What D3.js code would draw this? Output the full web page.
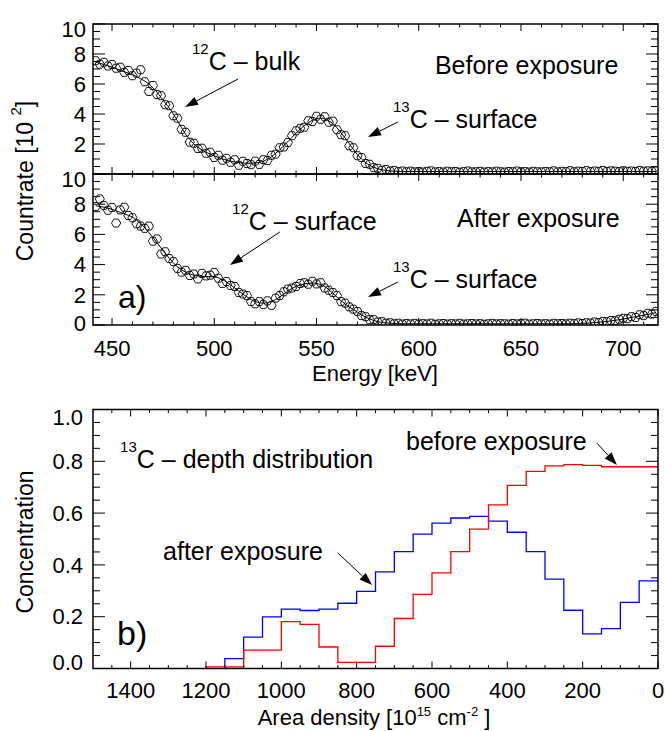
<!DOCTYPE html>
<html lang="en">
<head>
<meta charset="UTF-8">
<script src="https://d3js.org/d3.v7.min.js"></script>
<title>13C depth distribution</title>
<style>
  body { margin: 0; background: #fff; }
  svg { display: block; font-family: "Liberation Sans", Arial, sans-serif; }
  .frame { fill: none; stroke: #000; stroke-width: 1.5px; }
  .tick { stroke: #000; stroke-width: 1px; }
  .fit { fill: none; stroke: #000; stroke-width: 1px; }
  .pt { fill: none; stroke: #000; stroke-width: 0.9px; }
  .arrow { stroke: #000; stroke-width: 1px; }
</style>
</head>
<body>
<svg width="665" height="731"></svg>
<script>
const width = 665, height = 731;

// spectra channel grid: E = E0 + i * dE  [keV]
const E0 = 442, dE = 2;

// countrate [10^2], before exposure
const beforeFit = [
  7.45,7.38,7.30,7.22,7.12,7.02,6.92,6.82,6.72,6.62,
  6.50,6.35,6.20,6.00,5.75,5.45,5.10,4.75,4.40,4.00,
  3.55,3.10,2.65,2.30,2.00,1.78,1.60,1.45,1.33,1.22,
  1.10,1.00,0.92,0.85,0.80,0.76,0.73,0.72,0.72,0.73,
  0.77,0.85,0.98,1.15,1.38,1.62,1.88,2.15,2.45,2.72,
  2.98,3.22,3.42,3.58,3.68,3.72,3.68,3.55,3.35,3.08,
  2.75,2.40,2.02,1.65,1.30,1.00,0.76,0.58,0.45,0.35,
  0.28,0.24,0.21,0.19,0.18,0.17,0.17,0.17,0.17,0.17,
  0.17,0.17,0.17,0.17,0.17,0.17,0.17,0.17,0.17,0.17,
  0.17,0.17,0.17,0.17,0.17,0.17,0.17,0.17,0.17,0.17,
  0.17,0.17,0.17,0.17,0.17,0.17,0.17,0.17,0.17,0.17,
  0.17,0.17,0.17,0.17,0.17,0.17,0.17,0.17,0.17,0.17,
  0.17,0.17,0.17,0.17,0.17,0.17,0.17,0.17,0.17,0.17,
  0.17,0.17,0.17,0.17,0.17,0.17,0.17,0.17
];
const beforeData = [
  7.55,7.32,7.45,7.20,7.30,7.05,7.12,6.78,6.90,6.55,
  6.72,6.95,6.15,5.50,5.90,5.30,5.22,4.62,4.55,3.88,
  3.72,2.98,2.78,2.12,2.05,1.70,1.72,1.38,1.45,1.10,
  1.25,0.92,1.05,0.78,0.95,0.58,0.85,0.70,0.62,0.86,
  0.64,0.95,0.90,1.25,1.32,1.75,1.80,2.10,2.55,2.88,
  3.05,3.12,3.55,3.50,3.85,3.65,3.82,3.45,3.52,2.95,
  2.62,2.55,1.88,1.75,1.22,1.10,0.70,0.65,0.42,0.38,
  0.25,0.30,0.20,0.24,0.16,0.20,0.15,0.19,0.14,0.17,
  0.13,0.18,0.21,0.14,0.16,0.13,0.19,0.15,0.17,0.12,
  0.16,0.20,0.14,0.15,0.18,0.13,0.16,0.14,0.19,0.15,
  0.13,0.17,0.15,0.20,0.14,0.16,0.13,0.18,0.15,0.14,
  0.17,0.15,0.21,0.14,0.18,0.16,0.22,0.15,0.19,0.17,
  0.23,0.16,0.20,0.18,0.24,0.17,0.21,0.19,0.16,0.22,
  0.18,0.20,0.17,0.23,0.19,0.21,0.18,0.20
];

// countrate [10^2], after exposure
const afterFit = [
  7.90,7.85,7.80,7.74,7.66,7.56,7.46,7.36,7.26,7.14,
  6.95,6.70,6.45,6.12,5.80,5.45,5.10,4.76,4.42,4.12,
  3.86,3.66,3.50,3.38,3.30,3.25,3.22,3.20,3.20,3.18,
  3.12,3.00,2.85,2.65,2.45,2.25,2.05,1.86,1.68,1.55,
  1.48,1.45,1.47,1.55,1.68,1.85,2.05,2.25,2.42,2.55,
  2.65,2.72,2.76,2.78,2.75,2.68,2.55,2.35,2.10,1.85,
  1.60,1.40,1.20,1.02,0.85,0.68,0.52,0.40,0.30,0.22,
  0.17,0.14,0.12,0.10,0.09,0.08,0.08,0.08,0.08,0.08,
  0.08,0.08,0.08,0.08,0.08,0.08,0.08,0.08,0.08,0.08,
  0.08,0.08,0.08,0.08,0.08,0.08,0.08,0.08,0.08,0.08,
  0.08,0.08,0.08,0.08,0.08,0.08,0.08,0.08,0.08,0.08,
  0.08,0.08,0.08,0.08,0.08,0.08,0.08,0.09,0.10,0.11,
  0.12,0.14,0.16,0.18,0.21,0.24,0.27,0.31,0.35,0.40,
  0.45,0.50,0.55,0.60,0.65,0.70,0.76,0.82
];
const afterData = [
  7.85,8.35,7.92,7.60,7.78,6.75,7.62,7.80,7.25,7.10,
  6.70,6.55,6.40,6.55,5.55,5.70,4.70,4.85,4.40,4.20,
  3.75,3.50,3.62,3.28,3.38,3.05,3.42,3.25,3.30,3.48,
  3.10,2.75,2.88,2.62,2.55,2.15,2.05,1.95,1.55,1.40,
  1.55,1.35,1.60,1.30,1.78,1.95,2.20,2.38,2.45,2.55,
  2.75,2.80,2.70,2.90,2.72,2.80,2.45,2.30,2.15,1.95,
  1.55,1.45,1.20,1.05,0.90,0.62,0.55,0.35,0.35,0.20,
  0.22,0.12,0.15,0.08,0.12,0.06,0.10,0.07,0.11,0.06,
  0.09,0.07,0.12,0.05,0.08,0.10,0.06,0.09,0.07,0.11,
  0.06,0.08,0.10,0.07,0.09,0.05,0.08,0.11,0.07,0.09,
  0.08,0.06,0.10,0.07,0.09,0.12,0.06,0.08,0.10,0.07,
  0.09,0.06,0.11,0.08,0.10,0.07,0.12,0.09,0.14,0.10,
  0.15,0.13,0.20,0.16,0.24,0.22,0.30,0.28,0.38,0.45,
  0.42,0.55,0.50,0.68,0.62,0.78,0.72,0.90
];

// depth profile: bin edges in area density [10^15 cm^-2], deep end first
const binEdges = [1200,1150,1100,1050,1000,950,900,850,800,750,700,650,
                  600,550,500,450,400,350,300,250,200,150,100,50,0];
const beforeConc = [0.006,0.006,0.071,0.071,0.181,0.170,0.083,0.024,0.024,0.086,0.193,0.286,
                    0.369,0.451,0.538,0.632,0.707,0.761,0.782,0.787,0.784,0.779,0.779,0.779];
const afterConc = [null,0.038,0.121,0.199,0.229,0.224,0.229,0.252,0.298,0.373,0.451,0.519,
                   0.561,0.581,0.587,0.569,0.526,0.451,0.345,0.225,0.134,0.154,0.255,0.338];

const energyTicks = [450, 500, 550, 600, 650, 700];
const countTicksTop = [2, 4, 6, 8, 10];
const countTicksBottom = [0, 2, 4, 6, 8, 10];
const depthTicks = [1400, 1200, 1000, 800, 600, 400, 200, 0];
const concTicks = [0, 0.2, 0.4, 0.6, 0.8, 1.0];

const svg = d3.select("svg");

// ---------- helpers ----------
function ticksX(g, x, values, isMajor, y0, y1) {
  values.forEach(v => {
    const len = isMajor(v) ? 7 : 3.5;
    g.append("line").attr("class", "tick")
      .attr("x1", x(v)).attr("x2", x(v)).attr("y1", y0).attr("y2", y0 + len);
    g.append("line").attr("class", "tick")
      .attr("x1", x(v)).attr("x2", x(v)).attr("y1", y1).attr("y2", y1 - len);
  });
}

function ticksY(g, y, values, isMajor, x0, x1) {
  values.forEach(v => {
    const len = isMajor(v) ? 12 : 7;
    g.append("line").attr("class", "tick")
      .attr("x1", x0).attr("x2", x0 + len).attr("y1", y(v)).attr("y2", y(v));
    g.append("line").attr("class", "tick")
      .attr("x1", x1).attr("x2", x1 - len).attr("y1", y(v)).attr("y2", y(v));
  });
}

function supText(g, x, y, sup, main, size) {
  const t = g.append("text").attr("x", x).attr("y", y).attr("font-size", size);
  t.append("tspan").attr("font-size", 15).attr("dy", -16).text(sup);
  t.append("tspan").attr("dy", 16).text(main);
  return t;
}

function arrow(g, x1, y1, x2, y2) {
  const a = Math.atan2(y2 - y1, x2 - x1), L = 13, W = 4.5;
  const bx = x2 - L * Math.cos(a), by = y2 - L * Math.sin(a);
  g.append("line").attr("class", "arrow")
    .attr("x1", x1).attr("y1", y1).attr("x2", bx).attr("y2", by);
  g.append("path")
    .attr("d", `M${x2},${y2}L${bx - W * Math.sin(a)},${by + W * Math.cos(a)}L${bx + W * Math.sin(a)},${by - W * Math.cos(a)}Z`)
    .attr("fill", "#000");
}

const hexPath = d3.line()(d3.range(6).map(k => [4.6 * Math.cos(k * Math.PI / 3), 4.6 * Math.sin(k * Math.PI / 3)])) + "Z";

// ---------- panel a ----------
const xE = d3.scaleLinear().domain([440.7, 717]).range([93, 658]);
const panelsA = [
  { fit: beforeFit, data: beforeData, labels: countTicksTop,
    y: d3.scaleLinear().domain([0, 10]).range([174, 24]) },
  { fit: afterFit, data: afterData, labels: countTicksBottom,
    y: d3.scaleLinear().domain([0, 10]).range([325, 174]) }
];

panelsA.forEach((p, k) => {
  const g = svg.append("g");
  const [yb, yt] = p.y.range();
  const id = "clipA" + k;
  svg.append("clipPath").attr("id", id).append("rect")
    .attr("x", xE.range()[0]).attr("y", yt)
    .attr("width", xE.range()[1] - xE.range()[0]).attr("height", yb - yt);

  const plot = g.append("g").attr("clip-path", `url(#${id})`);
  const pts = p.data.map((v, i) => [E0 + i * dE, v]);
  const fitPts = p.fit.map((v, i) => [E0 + i * dE, v]);

  plot.selectAll("path.pt").data(pts).enter().append("path")
    .attr("class", "pt").attr("d", hexPath)
    .attr("transform", d => `translate(${xE(d[0])},${p.y(d[1])})`);

  plot.append("path").attr("class", "fit")
    .attr("d", d3.line().x(d => xE(d[0])).y(d => p.y(d[1])).curve(d3.curveMonotoneX)(fitPts));

  g.append("rect").attr("class", "frame")
    .attr("x", xE.range()[0]).attr("y", yt)
    .attr("width", xE.range()[1] - xE.range()[0]).attr("height", yb - yt);

  ticksX(g, xE, d3.range(450, 717, 10), v => v % 50 === 0, yt, yb);
  ticksY(g, p.y, d3.range(0, 10.01, 0.5), v => v % 2 === 0, xE.range()[0], xE.range()[1]);

  p.labels.forEach(v => {
    const ly = Math.max(yt + 5, Math.min(yb - 2, p.y(v)));
    g.append("text").attr("x", 86).attr("y", ly).attr("dy", "0.35em")
      .attr("text-anchor", "end").attr("font-size", 22).text(v);
  });
});

energyTicks.forEach(v => {
  svg.append("text").attr("x", xE(v)).attr("y", 356)
    .attr("text-anchor", "middle").attr("font-size", 22).text(v);
});

svg.append("text").attr("x", 375).attr("y", 381)
  .attr("text-anchor", "middle").attr("font-size", 22).text("Energy [keV]");

const cy = svg.append("text").attr("transform", "translate(33,181) rotate(-90)")
  .attr("text-anchor", "middle").attr("font-size", 23);
cy.append("tspan").text("Countrate [10 ");
cy.append("tspan").attr("font-size", 15).attr("dy", -12).text("2");
cy.append("tspan").attr("dy", 12).text("]");

// panel a annotations (data coordinates)
const yA = panelsA[0].y, yB = panelsA[1].y;
const ann = svg.append("g");
supText(ann, xE(489.1), yA(6.93), "12", "C \u2013 bulk", 25);
arrow(ann, xE(511.6), yA(6.33), xE(485.7), yA(4.47));
ann.append("text").attr("x", xE(607.9)).attr("y", yA(6.67)).attr("font-size", 25).text("Before exposure");
supText(ann, xE(587.4), yA(3.07), "13", "C \u2013 surface", 25);
arrow(ann, xE(589.8), yA(3.47), xE(575.2), yA(2.47));

supText(ann, xE(508.7), yB(6.29), "12", "C \u2013 surface", 25);
arrow(ann, xE(532.1), yB(6.16), xE(507.7), yB(3.97));
ann.append("text").attr("x", xE(618.7)).attr("y", yB(6.49)).attr("font-size", 25).text("After exposure");
supText(ann, xE(587.4), yB(2.45), "13", "C \u2013 surface", 25);
arrow(ann, xE(589.8), yB(2.85), xE(575.2), yB(1.85));
ann.append("text").attr("x", xE(452.9)).attr("y", yB(1.13)).attr("font-size", 32).text("a)");

// ---------- panel b ----------
const xD = d3.scaleLinear().domain([1500, 0]).range([93, 658]);
const yC = d3.scaleLinear().domain([0, 1]).range([668.5, 409.5]);
const gb = svg.append("g");

svg.append("clipPath").attr("id", "clipB").append("rect")
  .attr("x", 93).attr("y", 409.5).attr("width", 565).attr("height", 259);

function stepPoints(vals) {
  const pts = [];
  vals.forEach((v, i) => {
    if (v == null) return;
    if (!pts.length) pts.push([binEdges[i], 0]);
    pts.push([binEdges[i], v]);
  });
  pts.push([binEdges[binEdges.length - 1], vals[vals.length - 1]]);
  return pts;
}

const step = d3.line().x(d => xD(d[0])).y(d => yC(d[1])).curve(d3.curveStepAfter);
const plotB = gb.append("g").attr("clip-path", "url(#clipB)");
plotB.append("path").attr("d", step(stepPoints(afterConc)))
  .attr("fill", "none").attr("stroke", "#0000ff").attr("stroke-width", 1.3);
plotB.append("path").attr("d", step(stepPoints(beforeConc)))
  .attr("fill", "none").attr("stroke", "#ff0000").attr("stroke-width", 1.3);

gb.append("rect").attr("class", "frame")
  .attr("x", 93).attr("y", 409.5).attr("width", 565).attr("height", 259);

ticksX(gb, xD, d3.range(0, 1500, 50), v => v % 200 === 0, 409.5, 668.5);
ticksY(gb, yC, d3.range(0, 21).map(i => i / 20), v => Math.abs(v * 5 - Math.round(v * 5)) < 1e-9, 93, 658);

concTicks.forEach(v => {
  const ly = Math.max(409.5 + 8, Math.min(668.5 - 6, yC(v)));
  gb.append("text").attr("x", 83).attr("y", ly).attr("dy", "0.35em")
    .attr("text-anchor", "end").attr("font-size", 22).text(v.toFixed(1));
});
depthTicks.forEach(v => {
  gb.append("text").attr("x", xD(v)).attr("y", 698)
    .attr("text-anchor", "middle").attr("font-size", 22).text(v);
});

const xt = gb.append("text").attr("x", 374).attr("y", 725)
  .attr("text-anchor", "middle").attr("font-size", 22);
xt.append("tspan").text("Area density [10");
xt.append("tspan").attr("font-size", 13).attr("dy", -9).text("15");
xt.append("tspan").attr("dy", 9).text(" cm");
xt.append("tspan").attr("font-size", 13).attr("dy", -9).text("-2");
xt.append("tspan").attr("dy", 9).text(" ]");

gb.append("text").attr("transform", "translate(33,542) rotate(-90)")
  .attr("text-anchor", "middle").attr("font-size", 23).text("Concentration");

supText(gb, xD(1428), yC(0.774), "13", "C \u2013 depth distribution", 25);
gb.append("text").attr("x", xD(669)).attr("y", yC(0.844)).attr("font-size", 25).text("before exposure");
arrow(gb, xD(162), yC(0.870), xD(109), yC(0.786));
gb.append("text").attr("x", xD(1314)).attr("y", yC(0.419)).attr("font-size", 25).text("after exposure");
arrow(gb, xD(850), yC(0.446), xD(759), yC(0.322));
gb.append("text").attr("x", xD(1436)).attr("y", yC(0.091)).attr("font-size", 34).text("b)");
</script>
</body>
</html>
